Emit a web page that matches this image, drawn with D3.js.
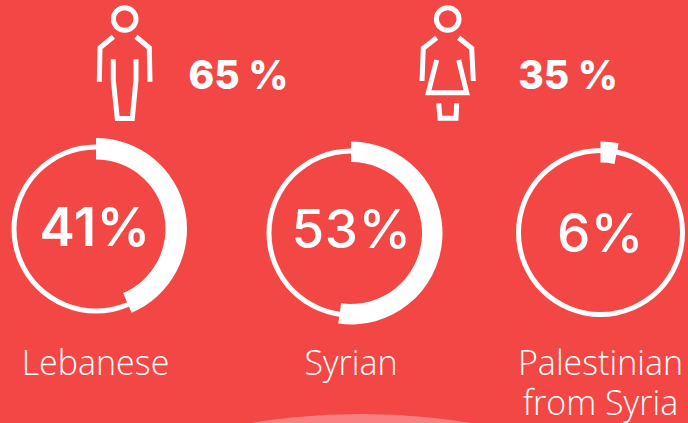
<!DOCTYPE html>
<html>
<head>
<meta charset="utf-8">
<script src="https://cdn.jsdelivr.net/npm/d3@7"></script>
<style>
  html, body { margin: 0; padding: 0; background: #f34745; overflow: hidden; }
  svg { display: block; }
</style>
</head>
<body>
<div id="chart"></div>
<script>
// values
const categories = ["Lebanese", "Syrian", "Palestinian"];
const shares = [41, 53, 6];
const sweepDegrees = [157, 188, 11.5]; // the white arcs as drawn, not quite proportional
const genderLabels = ["65 %", "35 %"];

const width = 688, height = 423;
const white = "#ffffff";

const svg = d3.select("#chart").append("svg")
    .attr("width", width)
    .attr("height", height);

svg.append("rect")
    .attr("width", width)
    .attr("height", height)
    .attr("fill", "#f34745");

// light bump at the bottom edge
svg.append("circle")
    .attr("cx", 361)
    .attr("cy", 414 + 677)
    .attr("r", 677)
    .attr("fill", "#f68180");

// rings
const centers = [[96, 229], [351, 233], [600.5, 232.5]];
const thickRadius = [[69.5, 91], [71, 91.5], [70, 91]];
const ringArc = d3.arc().innerRadius(79.5).outerRadius(84.5).startAngle(0).endAngle(2 * Math.PI);
const toRadians = d3.scaleLinear().domain([0, 360]).range([0, 2 * Math.PI]);

const rings = svg.selectAll(".ring")
    .data(categories)
    .enter().append("g")
    .attr("class", "ring")
    .attr("transform", (d, i) => `translate(${centers[i][0]}, ${centers[i][1]})`);

rings.append("path")
    .attr("d", ringArc)
    .attr("fill", white);

rings.append("path")
    .attr("d", (d, i) => d3.arc()({
        innerRadius: thickRadius[i][0],
        outerRadius: thickRadius[i][1],
        startAngle: 0,
        endAngle: toRadians(sweepDegrees[i])
    }))
    .attr("fill", white);

// percentages in the middle of the rings
const shareX = [95, 351.5, 600.5];
const shareY = [246, 248, 252];
const shareWeight = [600, 500, 500];
rings.each(function (d, i) {
    svg.append("text")
        .attr("x", shareX[i])
        .attr("y", shareY[i])
        .attr("text-anchor", "middle")
        .attr("font-family", "Inter")
        .attr("font-weight", shareWeight[i])
        .attr("font-size", 53)
        .attr("letter-spacing", 0.5)
        .attr("fill", white)
        .text(shares[i] + "%");
});

// category labels
const labelFont = "'Open Sans'";
const labels = [
    { text: "Lebanese", x: 95.5, y: 375 },
    { text: "Syrian", x: 351, y: 375 },
    { text: "Palestinian", x: 600.5, y: 375 },
    { text: "from Syria", x: 600.5, y: 415 }
];
svg.selectAll(".label")
    .data(labels)
    .enter().append("text")
    .attr("class", "label")
    .attr("x", d => d.x)
    .attr("y", d => d.y)
    .attr("text-anchor", "middle")
    .attr("font-family", labelFont)
    .attr("font-weight", 300)
    .attr("font-size", 34)
    .attr("fill", white)
    .text(d => d.text);

// gender labels
svg.selectAll(".gender")
    .data(genderLabels)
    .enter().append("text")
    .attr("class", "gender")
    .attr("x", (d, i) => [238.5, 568][i])
    .attr("y", 89)
    .attr("text-anchor", "middle")
    .attr("font-family", "Inter")
    .attr("font-weight", 800)
    .attr("font-size", 39)
    .attr("fill", white)
    .text(d => d);

// pictograms
const line = d3.line();
const icons = [
    {
        head: [124.7, 19],
        parts: [
            [[113.3, 36.7], [100, 47.7], [99.3, 81.7]],
            [[136, 36.7], [149.3, 47.7], [150, 81.7]],
            [[113.3, 59.3], [113.3, 80], [117.3, 118.5], [132.3, 118.5], [136, 80], [136, 59.3]]
        ]
    },
    {
        head: [447.7, 19],
        parts: [
            [[436.7, 37.7], [423.3, 48.3], [422, 81]],
            [[458.7, 37.7], [471.7, 48.3], [473.3, 81]],
            [[436.7, 60], [428.3, 92.7], [466.7, 92.7], [458.7, 60]],
            [[438.7, 103.3], [440, 118.3], [456, 118.3], [456.7, 103.3]]
        ]
    }
];

icons.forEach(icon => {
    const g = svg.append("g")
        .attr("fill", "none")
        .attr("stroke", white)
        .attr("stroke-width", 5);
    g.append("circle")
        .attr("cx", icon.head[0])
        .attr("cy", icon.head[1])
        .attr("r", 11.3);
    g.selectAll("path")
        .data(icon.parts)
        .enter().append("path")
        .attr("d", line);
});
</script>
</body>
</html>
